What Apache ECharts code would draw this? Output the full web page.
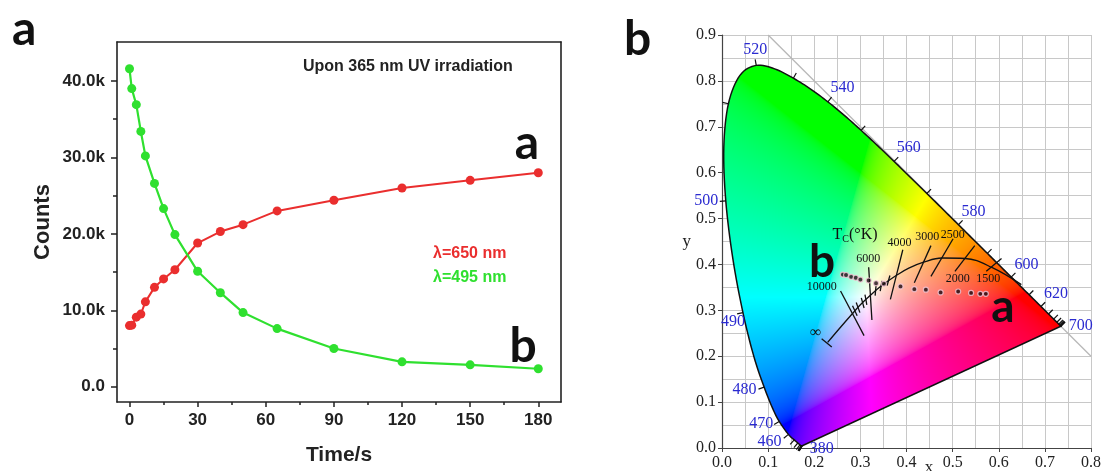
<!DOCTYPE html>
<html lang="en">
  <head>
    <meta charset="UTF-8" />
    <title>Counts vs time and CIE diagram</title>
    <script src="https://cdn.jsdelivr.net/npm/echarts@6/dist/echarts.min.js"></script>
  </head>
  <body style="margin:0;background:#fff">
    <style>
      #chart {
        width: 1104px;
        height: 471px;
      }
    </style>
    <div id="chart"></div>

    <script>
      // ---- panel a: emission counts over time ----
      const timeS = [0, 1, 3, 5, 7, 11, 15, 20, 30, 40, 50, 65, 90, 120, 150, 180];
      const counts650 = [8000, 8050, 9100, 9500, 11100, 13000, 14100, 15300, 18800, 20300, 21200, 23000, 24400, 26000, 27000, 28000];
      const counts495 = [41600, 39000, 36900, 33400, 30200, 26600, 23300, 19900, 15100, 12300, 9700, 7600, 5000, 3250, 2860, 2350];
      const timeTicks = [0, 30, 60, 90, 120, 150, 180];
      const timeMinor = [15, 45, 75, 105, 135, 165];
      const countTicks = [0, 10000, 20000, 30000, 40000];
      const countMinor = [5000, 15000, 25000, 35000];

      // ---- panel b: CIE 1931 diagram ----
      // [wavelength nm, x, y] along the spectral locus
      const locus = [
        [380, 0.1741, 0.005], [390, 0.1738, 0.0049], [400, 0.1733, 0.0048], [410, 0.1726, 0.0048],
        [420, 0.1714, 0.0051], [430, 0.1689, 0.0069], [440, 0.1644, 0.0109], [450, 0.1566, 0.0177],
        [460, 0.144, 0.0297], [470, 0.1241, 0.0578], [475, 0.1096, 0.0868], [480, 0.0913, 0.1327],
        [485, 0.0687, 0.2007], [490, 0.0454, 0.295], [495, 0.0235, 0.4127], [500, 0.0082, 0.5384],
        [505, 0.0039, 0.6548], [510, 0.0139, 0.7502], [515, 0.0389, 0.812], [520, 0.0743, 0.8338],
        [525, 0.1142, 0.8262], [530, 0.1547, 0.8059], [535, 0.1929, 0.7816], [540, 0.2296, 0.7543],
        [545, 0.2658, 0.7243], [550, 0.3016, 0.6923], [555, 0.3373, 0.6589], [560, 0.3731, 0.6245],
        [565, 0.4087, 0.5896], [570, 0.4441, 0.5547], [575, 0.4788, 0.5202], [580, 0.5125, 0.4866],
        [585, 0.5448, 0.4544], [590, 0.5752, 0.4242], [595, 0.6029, 0.3965], [600, 0.627, 0.3725],
        [605, 0.6482, 0.3514], [610, 0.6658, 0.334], [615, 0.6801, 0.3197], [620, 0.6915, 0.3083],
        [630, 0.7079, 0.292], [640, 0.719, 0.2809], [650, 0.726, 0.274], [660, 0.73, 0.27],
        [670, 0.732, 0.268], [680, 0.7334, 0.2666], [690, 0.7344, 0.2656], [700, 0.7347, 0.2653]
      ];
      const wlLabels = [
        ['520', 0.072, 0.868], ['540', 0.261, 0.785], ['560', 0.405, 0.655], ['580', 0.545, 0.515],
        ['600', 0.66, 0.4], ['620', 0.724, 0.336], ['700', 0.778, 0.266], ['380', 0.216, -0.002],
        ['460', 0.103, 0.014], ['470', 0.085, 0.053], ['480', 0.049, 0.126], ['490', 0.024, 0.276],
        ['500', -0.034, 0.538]
      ];
      const planck = [
        [0.229, 0.23], [0.256, 0.262], [0.282, 0.292], [0.3, 0.312], [0.322, 0.333], [0.345, 0.353],
        [0.381, 0.378], [0.405, 0.392], [0.437, 0.405], [0.477, 0.414], [0.527, 0.413], [0.586, 0.393],
        [0.649, 0.356]
      ];
      // isotherm segments [x1, y1, x2, y2]
      const isotherms = [
        [0.257, 0.342, 0.308, 0.245], [0.318, 0.394, 0.325, 0.279], [0.392, 0.432, 0.365, 0.324],
        [0.453, 0.441, 0.417, 0.36], [0.501, 0.456, 0.453, 0.374], [0.548, 0.441, 0.505, 0.385],
        [0.606, 0.413, 0.573, 0.385], [0.216, 0.238, 0.238, 0.22],
        [0.283, 0.31, 0.293, 0.288], [0.291, 0.317, 0.299, 0.295], [0.302, 0.327, 0.308, 0.305],
        [0.31, 0.334, 0.314, 0.312], [0.334, 0.354, 0.332, 0.332], [0.347, 0.364, 0.343, 0.342],
        [0.364, 0.376, 0.358, 0.354]
      ];
      const tempLabels = [
        ['10000', 0.216, 0.351], ['6000', 0.317, 0.413], ['4000', 0.385, 0.446], ['3000', 0.445, 0.46],
        ['2500', 0.5, 0.465], ['2000', 0.511, 0.369], ['1500', 0.577, 0.369], ['∞', 0.203, 0.252]
      ];
      const cieX = [0.262, 0.269, 0.28, 0.29, 0.3, 0.318, 0.334, 0.351, 0.387, 0.417, 0.442, 0.474, 0.512, 0.54, 0.56, 0.572];
      const cieY = [0.378, 0.377, 0.373, 0.371, 0.367, 0.365, 0.359, 0.358, 0.352, 0.346, 0.345, 0.339, 0.341, 0.338, 0.336, 0.336];

      const RED = '#ea2e2e';
      const GREEN = '#2fe02f';
      const SANS = 'Liberation Sans';
      const SERIF = 'Liberation Serif';

      // colour of the chromaticity plane, drawn once per pixel of panel b
      let cieFill = null;
      function gam(c) {
        return c <= 0.0031308 ? 12.92 * c : 1.055 * Math.pow(c, 1 / 2.4) - 0.055;
      }
      function makeFill(api) {
        const o = api.coord([0, 0]);
        const u = api.coord([0.8, 0.9]);
        const w = api.getWidth(), h = api.getHeight();
        const cv = document.createElement('canvas');
        cv.width = w;
        cv.height = h;
        const ctx = cv.getContext('2d');
        const img = ctx.createImageData(w, h);
        for (let py = Math.max(0, Math.floor(u[1])); py < Math.min(h, Math.ceil(o[1]) + 2); py++) {
          for (let px = Math.max(0, Math.floor(o[0])); px < Math.min(w, Math.ceil(u[0])); px++) {
            const x = ((px + 0.5 - o[0]) / (u[0] - o[0])) * 0.8;
            const y = Math.max(0.003, ((o[1] - py - 0.5) / (o[1] - u[1])) * 0.9);
            const X = x / y, Z = (1 - x - y) / y;
            let r = 3.2406 * X - 1.5372 - 0.4986 * Z;
            let g = -0.9689 * X + 1.8758 + 0.0415 * Z;
            let b = 0.0557 * X - 0.204 + 1.057 * Z;
            r = Math.max(0, r); g = Math.max(0, g); b = Math.max(0, b);
            const m = Math.max(r, g, b) || 1;
            const k = (py * w + px) * 4;
            img.data[k] = 255 * gam(r / m);
            img.data[k + 1] = 255 * gam(g / m);
            img.data[k + 2] = 255 * gam(b / m);
            img.data[k + 3] = 255;
          }
        }
        ctx.putImageData(img, 0, 0);
        return cv;
      }

      // smooth pixel path through the locus points
      function spline(pts) {
        const out = [];
        for (let i = 0; i < pts.length - 1; i++) {
          const p0 = pts[i - 1] || pts[i], p1 = pts[i], p2 = pts[i + 1], p3 = pts[i + 2] || pts[i + 1];
          for (let s = 0; s < 8; s++) {
            const t = s / 8, t2 = t * t, t3 = t2 * t;
            out.push([0, 1].map((d) =>
              0.5 * (2 * p1[d] + (p2[d] - p0[d]) * t + (2 * p0[d] - 5 * p1[d] + 4 * p2[d] - p3[d]) * t2 +
                (3 * p1[d] - p0[d] - 3 * p2[d] + p3[d]) * t3)));
          }
        }
        out.push(pts[pts.length - 1]);
        return out;
      }

      function renderLocus(params, api) {
        if (!cieFill) cieFill = makeFill(api);
        const pts = locus.map((p) => api.coord([p[1], p[2]]));
        const curve = spline(pts);
        const children = [
          {
            type: 'polygon',
            shape: { points: curve },
            style: { fill: { image: cieFill, repeat: 'no-repeat' }, stroke: '#111', lineWidth: 1.5 }
          }
        ];
        // wavelength ticks, pointing outward
        locus.forEach((p, i) => {
          if (p[0] % 10 !== 0) return;
          let a = i, b = i;
          while (a > 0 && Math.hypot(pts[a][0] - pts[i][0], pts[a][1] - pts[i][1]) < 4) a--;
          while (b < pts.length - 1 && Math.hypot(pts[b][0] - pts[i][0], pts[b][1] - pts[i][1]) < 4) b++;
          const tx = pts[b][0] - pts[a][0], ty = pts[b][1] - pts[a][1];
          const len = Math.hypot(tx, ty) || 1;
          const nx = ty / len, ny = -tx / len;
          children.push({
            type: 'line',
            shape: { x1: pts[i][0], y1: pts[i][1], x2: pts[i][0] + nx * 6, y2: pts[i][1] + ny * 6 },
            style: { stroke: '#111', lineWidth: 1.2 }
          });
        });
        return { type: 'group', children };
      }

      const chart = echarts.init(document.getElementById('chart'));

      const kFmt = (v) => (v === 0 ? '0.0' : (v / 1000).toFixed(1) + 'k');
      const axisA = { onZero: false, lineStyle: { color: '#222', width: 1.6 } };
      const noLine = { show: false, onZero: false };
      const labelA = { fontFamily: SANS, fontWeight: 'bold', fontSize: 17, color: '#222' };
      const serifLabel = { fontFamily: SERIF, fontSize: 16, color: '#222' };
      const bigLetter = (t, x, y, size) => ({
        type: 'text', x, y, z: 10,
        style: { text: t, font: 'bold ' + size + 'px Lato', fill: '#111', align: 'center', verticalAlign: 'middle' }
      });

      chart.setOption({
        animation: false,
        grid: [
          { left: 117, top: 42, width: 444, height: 366 },
          { left: 722, top: 35, width: 371, height: 417 }
        ],
        xAxis: [
          {
            gridIndex: 0, type: 'value', min: -5.5, max: 190, position: 'bottom',
            axisLine: axisA,
            axisTick: { customValues: timeTicks, length: 5, lineStyle: { color: '#222', width: 1.5 } },
            axisLabel: Object.assign({ customValues: timeTicks, margin: 10 }, labelA),
            splitLine: { show: false },
            name: 'Time/s', nameLocation: 'middle', nameGap: 43,
            nameTextStyle: { fontFamily: SANS, fontWeight: 'bold', fontSize: 21, color: '#222' }
          },
          {
            gridIndex: 0, type: 'value', min: -5.5, max: 190, position: 'bottom',
            axisLine: noLine,
            axisTick: { customValues: timeMinor, length: 3, lineStyle: { color: '#222', width: 1.5 } },
            axisLabel: { show: false },
            splitLine: { show: false }
          },
          {
            gridIndex: 0, type: 'value', min: -5.5, max: 190, position: 'top',
            axisLine: axisA, axisTick: { show: false }, axisLabel: { show: false }, splitLine: { show: false }
          },
          {
            gridIndex: 1, type: 'value', min: 0, max: 0.8, interval: 0.1,
            axisLine: { onZero: false, lineStyle: { color: '#444', width: 1.2 } },
            axisTick: { length: 4, lineStyle: { color: '#444' } },
            axisLabel: Object.assign({ margin: 7, formatter: (v) => v.toFixed(1) }, serifLabel),
            splitLine: { lineStyle: { color: '#c8c8c8', width: 1 } },
            minorTick: { show: false, splitNumber: 2 },
            minorSplitLine: { show: true, lineStyle: { color: '#c8c8c8', width: 1 } }
          }
        ],
        yAxis: [
          {
            gridIndex: 0, type: 'value', min: -2000, max: 45100, position: 'left',
            axisLine: axisA,
            axisTick: { customValues: countTicks, length: 6, lineStyle: { color: '#222', width: 1.5 } },
            axisLabel: Object.assign({ customValues: countTicks, margin: 12, formatter: kFmt }, labelA),
            splitLine: { show: false },
            name: 'Counts', nameLocation: 'middle', nameGap: 63,
            nameTextStyle: { fontFamily: SANS, fontWeight: 'bold', fontSize: 22, color: '#222' }
          },
          {
            gridIndex: 0, type: 'value', min: -2000, max: 45100, position: 'left',
            axisLine: noLine,
            axisTick: { customValues: countMinor, length: 4, lineStyle: { color: '#222', width: 1.5 } },
            axisLabel: { show: false },
            splitLine: { show: false }
          },
          {
            gridIndex: 0, type: 'value', min: -2000, max: 45100, position: 'right',
            axisLine: axisA, axisTick: { show: false }, axisLabel: { show: false }, splitLine: { show: false }
          },
          {
            gridIndex: 1, type: 'value', min: 0, max: 0.9, interval: 0.1,
            axisLine: { onZero: false, lineStyle: { color: '#444', width: 1.2 } },
            axisTick: { length: 4, lineStyle: { color: '#444' } },
            axisLabel: Object.assign({ margin: 6, formatter: (v) => v.toFixed(1) }, serifLabel),
            splitLine: { lineStyle: { color: '#c8c8c8', width: 1 } },
            minorTick: { show: false, splitNumber: 2 },
            minorSplitLine: { show: true, lineStyle: { color: '#c8c8c8', width: 1 } },
            name: 'y', nameLocation: 'middle', nameRotate: 0, nameGap: 24,
            nameTextStyle: { fontFamily: SERIF, fontSize: 17, color: '#222' }
          }
        ],
        series: [
          {
            type: 'line', xAxisIndex: 0, yAxisIndex: 0,
            data: timeS.map((t, i) => [t, counts650[i]]),
            symbol: 'circle', symbolSize: 9,
            lineStyle: { color: RED, width: 2 }, itemStyle: { color: RED }
          },
          {
            type: 'line', xAxisIndex: 0, yAxisIndex: 0,
            data: timeS.map((t, i) => [t, counts495[i]]),
            symbol: 'circle', symbolSize: 9,
            lineStyle: { color: GREEN, width: 2.2 }, itemStyle: { color: GREEN }
          },
          {
            type: 'line', xAxisIndex: 3, yAxisIndex: 3, z: 1,
            data: [[0.1, 0.9], [0.8, 0.2]], symbol: 'none',
            lineStyle: { color: '#b8b8b8', width: 1.3 }
          },
          {
            type: 'custom', xAxisIndex: 3, yAxisIndex: 3, z: 2, silent: true,
            data: [[0, 0]], renderItem: renderLocus, clip: false
          },
          {
            type: 'line', xAxisIndex: 3, yAxisIndex: 3, z: 3,
            data: planck, symbol: 'none', smooth: 0.4,
            lineStyle: { color: '#111', width: 1.3 }
          },
          {
            type: 'custom', xAxisIndex: 3, yAxisIndex: 3, z: 3, silent: true,
            data: isotherms,
            renderItem: (params, api) => {
              const a = api.coord([api.value(0), api.value(1)]);
              const b = api.coord([api.value(2), api.value(3)]);
              return {
                type: 'line',
                shape: { x1: a[0], y1: a[1], x2: b[0], y2: b[1] },
                style: { stroke: '#111', lineWidth: 1.3 }
              };
            }
          },
          {
            type: 'custom', xAxisIndex: 3, yAxisIndex: 3, z: 4, silent: true, clip: false,
            data: wlLabels.map((d) => [d[1], d[2]]),
            renderItem: (params, api) => {
              const p = api.coord([api.value(0), api.value(1)]);
              return {
                type: 'text',
                style: {
                  x: p[0], y: p[1], text: wlLabels[params.dataIndex][0],
                  fill: '#2a2ad0', font: '16px ' + SERIF, align: 'center', verticalAlign: 'middle'
                }
              };
            }
          },
          {
            type: 'custom', xAxisIndex: 3, yAxisIndex: 3, z: 4, silent: true,
            data: tempLabels.map((d) => [d[1], d[2]]),
            renderItem: (params, api) => {
              const p = api.coord([api.value(0), api.value(1)]);
              const txt = tempLabels[params.dataIndex][0];
              return {
                type: 'text',
                style: {
                  x: p[0], y: p[1], text: txt,
                  fill: '#111', font: (txt === '∞' ? '16px ' : '12px ') + SERIF,
                  align: 'center', verticalAlign: 'middle'
                }
              };
            }
          },
          {
            type: 'scatter', xAxisIndex: 3, yAxisIndex: 3, z: 5,
            data: cieX.map((x, i) => [x, cieY[i]]),
            symbol: 'circle', symbolSize: 5,
            itemStyle: { color: '#1a0a10', borderColor: '#f4c8d8', borderWidth: 1.2 }
          }
        ],
        graphic: [
          { type: 'text', left: 12, top: 6, style: { text: 'a', font: 'bold 48px Lato', fill: '#111' } },
          { type: 'text', left: 624, top: 16, style: { text: 'b', font: 'bold 48px Lato', fill: '#111' } },
          bigLetter('a', 527, 144, 48),
          bigLetter('b', 523, 347, 48),
          bigLetter('b', 822, 262, 46),
          bigLetter('a', 1003, 307, 46),
          { type: 'text', x: 303, y: 67, style: { text: 'Upon 365 nm UV irradiation', font: 'bold 16px ' + SANS, fill: '#222', verticalAlign: 'middle' } },
          { type: 'text', x: 433, y: 254, style: { text: 'λ=650 nm', font: 'bold 16px ' + SANS, fill: RED, verticalAlign: 'middle' } },
          { type: 'text', x: 433, y: 278, style: { text: 'λ=495 nm', font: 'bold 16px ' + SANS, fill: GREEN, verticalAlign: 'middle' } },
          { type: 'text', x: 855, y: 235, z: 10, style: { text: 'T{s|C}(°K)', rich: { s: { fontSize: 10, fontFamily: SERIF, verticalAlign: 'bottom', padding: [8, 0, 0, 0] } }, font: '16px ' + SERIF, fill: '#111', align: 'center', verticalAlign: 'middle' } },
          { type: 'text', x: 929, y: 468, style: { text: 'x', font: '17px ' + SERIF, fill: '#222', align: 'center', verticalAlign: 'middle' } }
        ]
      });
    </script>
  </body>
</html>
